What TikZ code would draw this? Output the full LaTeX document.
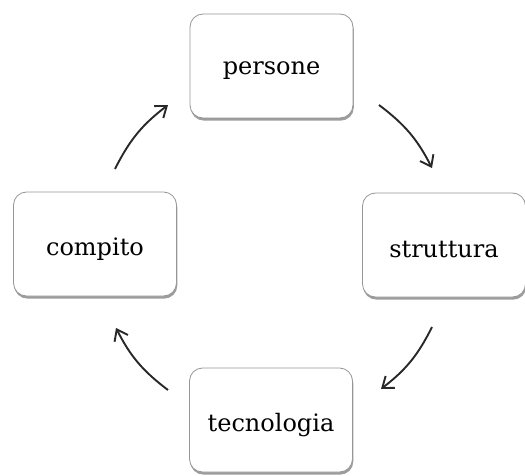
\documentclass[tikz,border=0pt]{standalone}
\usepackage{fontspec}
\setmainfont{DejaVu Serif}
\usetikzlibrary{arrows.meta,shadows}
\definecolor{boxline}{RGB}{150,150,150}
\definecolor{arrowink}{RGB}{40,40,40}
% labels sit a little below the middle of their cards
\newcommand{\cardtext}[1]{\raisebox{-5pt}[\height][\depth]{#1}}
\begin{document}
\begin{tikzpicture}[x=1pt,y=-1pt,
  card/.style={draw=boxline, line width=0.8pt, fill=white, rounded corners=13pt,
    minimum width=163pt, minimum height=104pt, inner sep=0pt,
    font=\fontsize{24}{28}\selectfont,
    drop shadow={shadow xshift=0.8pt, shadow yshift=-2.6pt, opacity=0.55, fill=black!70}},
  flow/.style={draw=arrowink, line width=1.9pt, bend left=13,
    -{Straight Barb[length=10pt,width=15pt,line width=1.9pt]}}]
  \useasboundingbox (0,0) rectangle (525,476);

  % the four elements of the cycle
  \node[card] (persone)    at (271.5,66)  {\cardtext{persone}};
  \node[card] (struttura)  at (444,245)   {\cardtext{struttura}};
  \node[card] (compito)    at (95,244)    {\cardtext{compito}};
  \node[card] (tecnologia) at (271,420)   {\cardtext{tecnologia}};

  % ends of the curved arrows running clockwise
  \coordinate (a1) at (115,169);  \coordinate (b1) at (168,105);
  \coordinate (a2) at (379,105);  \coordinate (b2) at (432,168);
  \coordinate (a3) at (432,327);  \coordinate (b3) at (381,389);
  \coordinate (a4) at (168,390);  \coordinate (b4) at (116,328);

  \draw[flow] (a1) to (b1);
  \draw[flow] (a2) to (b2);
  \draw[flow] (a3) to (b3);
  \draw[flow] (a4) to (b4);
\end{tikzpicture}
\end{document}
